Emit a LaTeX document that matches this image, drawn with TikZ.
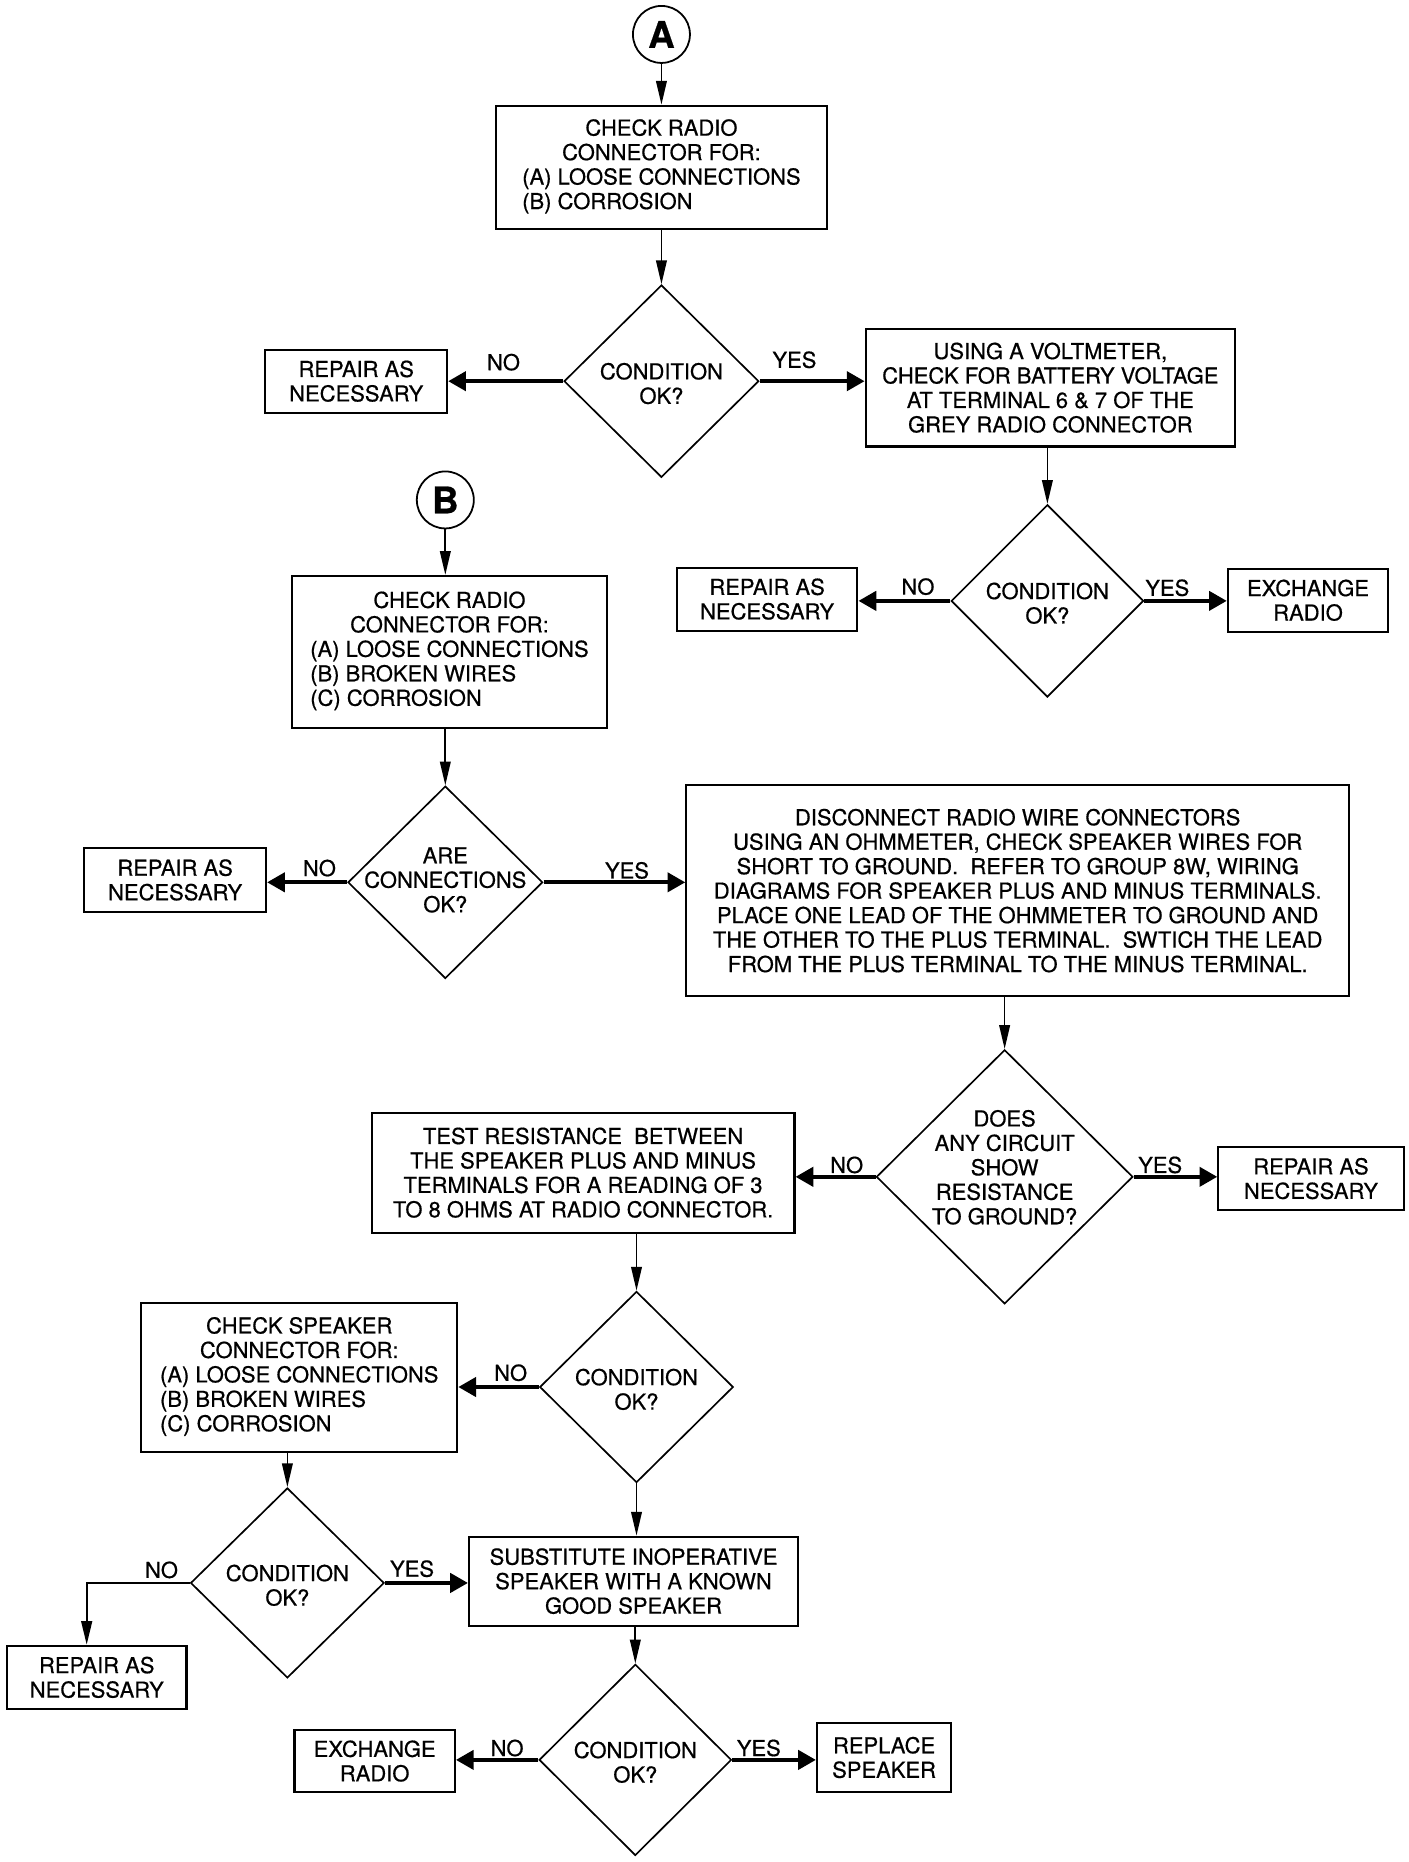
\documentclass[tikz,border=0pt]{standalone}
\usepackage{fontspec}
\setmainfont{TeX Gyre Heros}[FakeBold=0.6]
\usetikzlibrary{arrows.meta,shapes.geometric}
\newcommand\myfs{\fontsize{18.5}{20.6}\selectfont}
\begin{document}
\begin{tikzpicture}[x=1pt,y=-1pt,
  box/.style={draw, line width=1.8pt, inner sep=0pt, align=center, font=\myfs},
  dia/.style={draw, diamond, line width=1.4pt, inner sep=0pt},
  dtext/.style={align=center, font=\myfs, inner sep=0pt},
  lbl/.style={font=\myfs, inner sep=0pt},
  conn/.style={draw, circle, line width=1.5pt, minimum size=48pt, inner sep=0pt, font=\fontsize{31}{31}\selectfont\bfseries},
  vline/.style={line width=1.4pt, -{Triangle[width=9pt,length=20pt]}},
  hline/.style={line width=3.5pt, -{Triangle[width=16pt,length=15pt]}},
  bline/.style={line width=2pt, -{Triangle[width=9pt,length=20pt]}}
]
\path[fill=white] (0,0) rectangle (1186,1568);
\useasboundingbox (0,0) rectangle (1186,1568);

% --- A branch ---
\node[conn] (A) at (557,29) {A};
\node[box, minimum width=279pt, minimum height=104pt] (box1) at (557,141)
  {\begin{tabular}{@{}l@{}}\multicolumn{1}{@{}c@{}}{CHECK RADIO}\\ \multicolumn{1}{@{}c@{}}{CONNECTOR FOR:}\\ (A) LOOSE CONNECTIONS\\ (B) CORROSION\end{tabular}};
\node[dia, minimum width=164pt, minimum height=162pt] (d1) at (557,321) {};
\node[dtext] (d1t) at (557,323) {CONDITION\\OK?};
\node[box, minimum width=153pt, minimum height=53pt] (rep1) at (300,321) {REPAIR AS\\NECESSARY};
\node[box, minimum width=311pt, minimum height=99pt] (volt) at (884.5,326.5)
  {USING A VOLTMETER,\\CHECK FOR BATTERY VOLTAGE\\AT TERMINAL 6 \& 7 OF THE\\GREY RADIO CONNECTOR};
\node[dia, minimum width=162pt, minimum height=162pt] (d2) at (882,506) {};
\node[dtext] (d2t) at (882,508) {CONDITION\\OK?};
\node[box, minimum width=152pt, minimum height=53pt] (rep2) at (646,504.5) {REPAIR AS\\NECESSARY};
\node[box, minimum width=135pt, minimum height=53pt] (exch1) at (1101.5,505.5) {EXCHANGE\\RADIO};

\draw[vline] (A) -- (A |- box1.north);
\draw[vline] (box1.south -| d1.north) -- (d1.north);
\draw[hline] (d1.west) -- (d1.west -| rep1.east);
\draw[hline] (d1.east) -- (d1.east -| volt.west);
\draw[vline] (d2.north |- volt.south) -- (d2.north);
\draw[hline] (d2.west) -- (d2.west -| rep2.east);
\draw[hline] (d2.east) -- (d2.east -| exch1.west);
\node[lbl] (l1n) at (424,305) {NO};
\node[lbl] (l1y) at (669,303) {YES};
\node[lbl] (l2n) at (773,494) {NO};
\node[lbl] (l2y) at (983,495) {YES};

% --- B branch ---
\node[conn] (B) at (375,421) {B};
\node[box, minimum width=265pt, minimum height=128pt] (boxB) at (378.5,549)
  {\begin{tabular}{@{}l@{}}\multicolumn{1}{@{}c@{}}{CHECK RADIO}\\ \multicolumn{1}{@{}c@{}}{CONNECTOR FOR:}\\ (A) LOOSE CONNECTIONS\\ (B) BROKEN WIRES\\ (C) CORROSION\end{tabular}};
\node[dia, minimum width=164pt, minimum height=162pt] (d3) at (375,743) {};
\node[dtext] (d3t) at (375,741) {ARE\\CONNECTIONS\\OK?};
\node[box, minimum width=153pt, minimum height=54pt] (rep3) at (147.5,741) {REPAIR AS\\NECESSARY};
\node[box, minimum width=558pt, minimum height=178pt] (big) at (857,750)
  {DISCONNECT RADIO WIRE CONNECTORS\\
   USING AN OHMMETER, CHECK SPEAKER WIRES FOR\\
   SHORT TO GROUND.\ \ REFER TO GROUP 8W, WIRING\\
   DIAGRAMS FOR SPEAKER PLUS AND MINUS TERMINALS.\\
   PLACE ONE LEAD OF THE OHMMETER TO GROUND AND\\
   THE OTHER TO THE PLUS TERMINAL.\ \ SWTICH THE LEAD\\
   FROM THE PLUS TERMINAL TO THE MINUS TERMINAL.};
\node[dia, minimum width=216pt, minimum height=214pt] (d4) at (846,991) {};
\node[dtext] (d4t) at (846,983) {DOES\\ANY CIRCUIT\\SHOW\\RESISTANCE\\TO GROUND?};
\node[box, minimum width=156pt, minimum height=53pt] (rep4) at (1104,992.5) {REPAIR AS\\NECESSARY};
\node[box, minimum width=356pt, minimum height=101pt] (test) at (491,987.5)
  {TEST RESISTANCE\ \ BETWEEN\\THE SPEAKER PLUS AND MINUS\\TERMINALS FOR A READING OF 3\\TO 8 OHMS AT RADIO CONNECTOR.};

\draw[vline] (B) -- (B |- boxB.north);
\draw[vline] (boxB.south -| d3.north) -- (d3.north);
\draw[hline] (d3.west) -- (d3.west -| rep3.east);
\draw[hline] (d3.east) -- (d3.east -| big.west);
\draw[vline] (big.south -| d4.north) -- (d4.north);
\draw[hline] (d4.east) -- (d4.east -| rep4.west);
\draw[hline] (d4.west) -- (d4.west -| test.east);
\node[lbl] (l3n) at (269,731) {NO};
\node[lbl] (l3y) at (528,733) {YES};
\node[lbl] (l4n) at (713,981) {NO};
\node[lbl] (l4y) at (977,981) {YES};

% --- lower part ---
\node[dia, minimum width=163pt, minimum height=161pt] (d5) at (536,1168) {};
\node[dtext] (d5t) at (536,1170) {CONDITION\\OK?};
\node[box, minimum width=266pt, minimum height=126pt] (chk) at (252,1160)
  {\begin{tabular}{@{}l@{}}\multicolumn{1}{@{}c@{}}{CHECK SPEAKER}\\ \multicolumn{1}{@{}c@{}}{CONNECTOR FOR:}\\ (A) LOOSE CONNECTIONS\\ (B) BROKEN WIRES\\ (C) CORROSION\end{tabular}};
\node[dia, minimum width=163pt, minimum height=160pt] (d6) at (242,1333) {};
\node[dtext] (d6t) at (242,1335) {CONDITION\\OK?};
\node[box, minimum width=151pt, minimum height=53pt] (rep5) at (81.5,1412.5) {REPAIR AS\\NECESSARY};
\node[box, minimum width=277pt, minimum height=75pt] (sub) at (533.5,1331.5)
  {SUBSTITUTE INOPERATIVE\\SPEAKER WITH A KNOWN\\GOOD SPEAKER};
\node[dia, minimum width=162pt, minimum height=161pt] (d7) at (535,1482) {};
\node[dtext] (d7t) at (535,1484) {CONDITION\\OK?};
\node[box, minimum width=135pt, minimum height=52pt] (exch2) at (315.5,1483) {EXCHANGE\\RADIO};
\node[box, minimum width=113pt, minimum height=58pt] (repl) at (744.5,1480) {REPLACE\\SPEAKER};
\coordinate (c6) at (73,1333);

\draw[vline] (test.south -| d5.north) -- (d5.north);
\draw[hline] (d5.west) -- (d5.west -| chk.east);
\draw[vline] (d5.south) -- (d5.south |- sub.north);
\draw[vline] (chk.south -| d6.north) -- (d6.north);
\draw[bline] (d6.west) -- (c6) -- (c6 |- rep5.north);
\draw[hline] (d6.east) -- (d6.east -| sub.west);
\draw[vline] (sub.south -| d7.north) -- (d7.north);
\draw[hline] (d7.west) -- (d7.west -| exch2.east);
\draw[hline] (d7.east) -- (d7.east -| repl.west);
\node[lbl] (l5n) at (430,1156) {NO};
\node[lbl] (l6n) at (136,1322) {NO};
\node[lbl] (l6y) at (347,1321) {YES};
\node[lbl] (l7n) at (427,1472) {NO};
\node[lbl] (l7y) at (639,1472) {YES};
\end{tikzpicture}
\end{document}
